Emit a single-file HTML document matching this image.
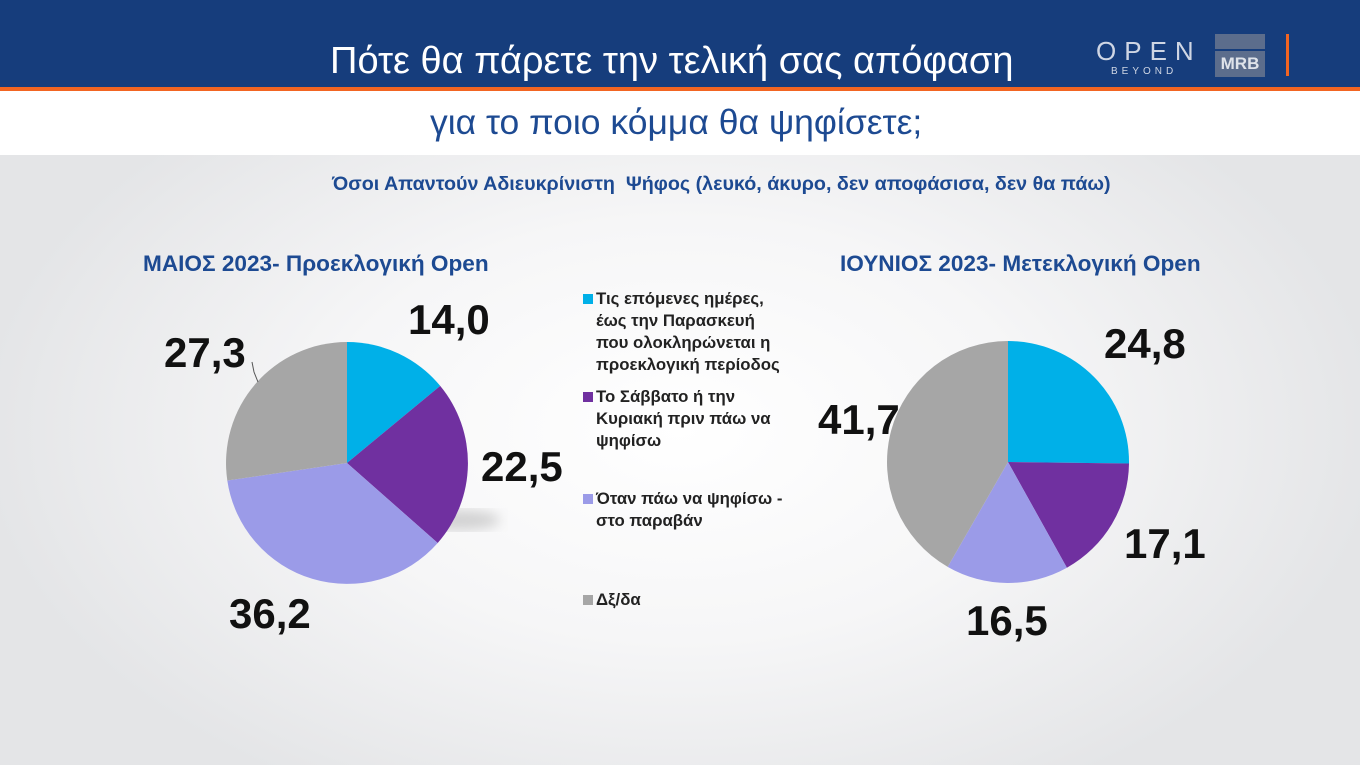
<!DOCTYPE html>
<html><head><meta charset="utf-8"><style>
body{margin:0;width:1360px;height:765px;overflow:hidden;font-family:"Liberation Sans",sans-serif;}
.bg{position:absolute;left:0;top:0;width:1360px;height:765px;background:radial-gradient(ellipse 700px 420px at 680px 430px,#ffffff 0%,#f6f6f7 50%,#e4e5e7 100%);}
.hdr{position:absolute;left:0;top:0;width:1360px;height:87px;background:#163d7c;}
.orn{position:absolute;left:0;top:87px;width:1360px;height:4px;background:#f26522;}
.wb{position:absolute;left:0;top:91px;width:1360px;height:64px;background:#fff;}
.t{position:absolute;white-space:nowrap;}
.lg{position:absolute;left:596px;font-size:16.8px;font-weight:bold;color:#222;line-height:22px;white-space:nowrap;}
.sq{position:absolute;left:-13px;top:6px;width:10px;height:10px;}
.n{position:absolute;font-size:42px;font-weight:bold;color:#111;}
</style></head><body>
<div class="bg"></div>
<div class="hdr"></div><div class="orn"></div><div class="wb"></div>
<div class="t" style="left:330px;top:40px;font-size:38px;color:#fff;">Πότε θα πάρετε την τελική σας απόφαση</div>
<div class="t" style="left:1096px;top:36px;font-size:26px;color:#cfd6e4;letter-spacing:8px;font-weight:300;">OPEN</div>
<div class="t" style="left:1111px;top:66px;font-size:10px;color:#cfd6e4;letter-spacing:4px;">BEYOND</div>
<div style="position:absolute;left:1215px;top:34px;width:50px;height:15px;background:#5c6d8c;"></div>
<div style="position:absolute;left:1215px;top:51px;width:50px;height:26px;background:#5c6d8c;color:#dfe3ea;font-weight:bold;font-size:17px;text-align:center;line-height:26px;">MRB</div>
<div style="position:absolute;left:1286px;top:34px;width:3px;height:42px;background:#f26522;"></div>
<div class="t" style="left:430px;top:102px;font-size:35.5px;color:#1d4a92;">για το ποιο κόμμα θα ψηφίσετε;</div>
<div class="t" style="left:332px;top:173px;font-size:19.7px;font-weight:bold;color:#1d4a92;">Όσοι Απαντούν Αδιευκρίνιστη&nbsp; Ψήφος (λευκό, άκυρο, δεν αποφάσισα, δεν θα πάω)</div>
<div class="t" style="left:143px;top:251px;font-size:22.6px;font-weight:bold;color:#1d4a92;">ΜΑΙΟΣ 2023- Προεκλογική Open</div>
<div class="t" style="left:840px;top:251px;font-size:22.6px;font-weight:bold;color:#1d4a92;">ΙΟΥΝΙΟΣ 2023- Μετεκλογική Open</div>
<svg style="position:absolute;left:0;top:0" width="1360" height="765">
<defs><filter id="b"><feGaussianBlur stdDeviation="6"/></filter></defs>
<ellipse cx="460" cy="520" rx="40" ry="10" fill="#999" opacity=".4" filter="url(#b)"/>
<g transform="translate(347,463)">
<path d="M0,0 L0,-121 A121,121 0 0 1 93.2,-77.1Z" fill="#00b0e8"/>
<path d="M0,0 L93.2,-77.1 A121,121 0 0 1 90.7,80Z" fill="#7030a0"/>
<path d="M0,0 L90.7,80 A121,121 0 0 1 -119.7,17.5Z" fill="#9b9be8"/>
<path d="M0,0 L-119.7,17.5 A121,121 0 0 1 0,-121Z" fill="#a6a6a6"/>
</g>
<path d="M252,362 L254,372 L258,382" stroke="#555" fill="none" stroke-width="1"/>
<g transform="translate(1008,462)">
<path d="M0,0 L0,-121 A121,121 0 0 1 121,1.5Z" fill="#00b0e8"/>
<path d="M0,0 L121,1.5 A121,121 0 0 1 58.9,105.7Z" fill="#7030a0"/>
<path d="M0,0 L58.9,105.7 A121,121 0 0 1 -60.3,104.9Z" fill="#9b9be8"/>
<path d="M0,0 L-60.3,104.9 A121,121 0 0 1 0,-121Z" fill="#a6a6a6"/>
</g>
</svg>
<div class="n" style="left:408px;top:296px;">14,0</div>
<div class="n" style="left:164px;top:329px;">27,3</div>
<div class="n" style="left:481px;top:443px;">22,5</div>
<div class="n" style="left:229px;top:590px;">36,2</div>
<div class="n" style="left:1104px;top:320px;">24,8</div>
<div class="n" style="left:818px;top:396px;">41,7</div>
<div class="n" style="left:1124px;top:520px;">17,1</div>
<div class="n" style="left:966px;top:597px;">16,5</div>
<div class="lg" style="top:288px;"><span class="sq" style="background:#00b0e8"></span>Τις επόμενες ημέρες,<br>έως την Παρασκευή<br>που ολοκληρώνεται η<br>προεκλογική περίοδος</div>
<div class="lg" style="top:386px;"><span class="sq" style="background:#7030a0"></span>Το Σάββατο ή την<br>Κυριακή πριν πάω να<br>ψηφίσω</div>
<div class="lg" style="top:488px;"><span class="sq" style="background:#9b9be8"></span>Όταν πάω να ψηφίσω -<br>στο παραβάν</div>
<div class="lg" style="top:589px;"><span class="sq" style="background:#a6a6a6"></span>Δξ/δα</div>
</body></html>
